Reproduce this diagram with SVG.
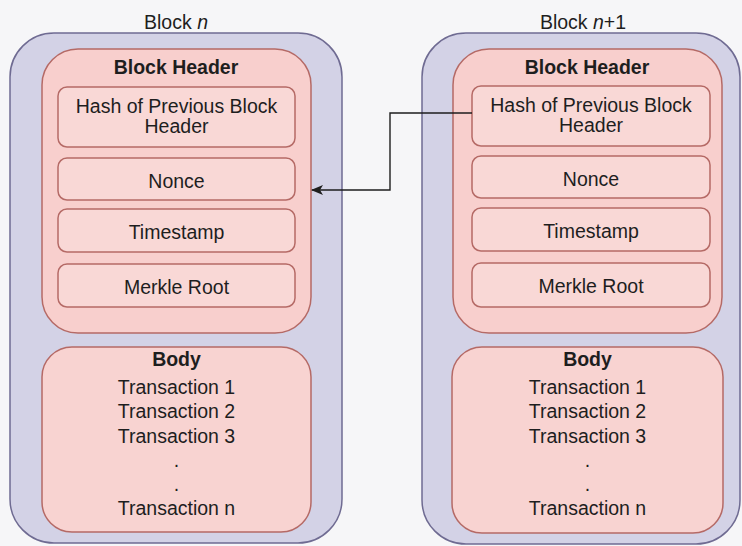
<svg xmlns="http://www.w3.org/2000/svg" width="742" height="546" viewBox="0 0 742 546">
<defs>
<style>
.bg{fill:#f6f6f8}
.outer{fill:#d3d2e6;stroke:#6f6b92;stroke-width:1.5}
.hdr{fill:#f8cfcd;stroke:#b56a66;stroke-width:1.5}
.box{fill:#f9d8d6;stroke:#b56a66;stroke-width:1.5}
.body{fill:#f8d3d1;stroke:#b56a66;stroke-width:1.5}
text{font-family:"Liberation Sans",Arial,sans-serif;font-size:19.5px;fill:#1e1e1e;text-anchor:middle}
.b{font-weight:bold}
.conn{fill:none;stroke:#1e1e1e;stroke-width:1.4}
</style>
<marker id="arr" viewBox="0 0 12 10" refX="11" refY="5" markerWidth="12" markerHeight="10" markerUnits="userSpaceOnUse" orient="auto">
<path d="M0,0 L12,5 L0,10 L3,5 Z" fill="#1e1e1e"/>
</marker>
</defs>
<rect class="bg" x="0" y="0" width="742" height="546"/>

<g id="block-n">
<text x="176" y="29">Block <tspan font-style="italic">n</tspan></text>
<rect class="outer" x="10" y="33" width="332" height="510" rx="44"/>
</g>
<g id="block-n-header">
<rect class="hdr" x="42" y="49" width="269" height="284" rx="36"/>
<text class="b" x="176" y="74">Block Header</text>
</g>
<g id="block-n-hash">
<rect class="box" x="58" y="87" width="237" height="60" rx="9"/>
<text x="176.5" y="113">Hash of Previous Block</text>
<text x="176.5" y="133">Header</text>
</g>
<g id="block-n-nonce">
<rect class="box" x="58" y="158" width="237" height="42" rx="9"/>
<text x="176.5" y="188">Nonce</text>
</g>
<g id="block-n-timestamp">
<rect class="box" x="58" y="209" width="237" height="43" rx="9"/>
<text x="176.5" y="239">Timestamp</text>
</g>
<g id="block-n-merkle">
<rect class="box" x="58" y="264" width="237" height="43" rx="9"/>
<text x="176.5" y="294">Merkle Root</text>
</g>
<g id="block-n-body">
<rect class="body" x="42" y="347" width="269" height="185" rx="30"/>
<text class="b" x="176.5" y="366">Body</text>
<text x="176.5" y="394">Transaction 1</text>
<text x="176.5" y="418">Transaction 2</text>
<text x="176.5" y="443">Transaction 3</text>
<text x="176.5" y="467">.</text>
<text x="176.5" y="491">.</text>
<text x="176.5" y="515">Transaction n</text>
</g>

<g id="block-n1">
<text x="583" y="29">Block <tspan font-style="italic">n</tspan>+1</text>
<rect class="outer" x="422" y="33" width="318" height="511" rx="44"/>
</g>
<g id="block-n1-header">
<rect class="hdr" x="453" y="49" width="269" height="284" rx="36"/>
<text class="b" x="587" y="74">Block Header</text>
</g>
<g id="block-n1-hash">
<rect class="box" x="472" y="86" width="238" height="60" rx="9"/>
<text x="591" y="112">Hash of Previous Block</text>
<text x="591" y="132">Header</text>
</g>
<g id="block-n1-nonce">
<rect class="box" x="472" y="156" width="238" height="42" rx="9"/>
<text x="591" y="186">Nonce</text>
</g>
<g id="block-n1-timestamp">
<rect class="box" x="472" y="208" width="238" height="43" rx="9"/>
<text x="591" y="238">Timestamp</text>
</g>
<g id="block-n1-merkle">
<rect class="box" x="472" y="263" width="238" height="44" rx="9"/>
<text x="591" y="293">Merkle Root</text>
</g>
<g id="block-n1-body">
<rect class="body" x="452" y="347" width="271" height="186" rx="30"/>
<text class="b" x="587.5" y="366">Body</text>
<text x="587.5" y="394">Transaction 1</text>
<text x="587.5" y="418">Transaction 2</text>
<text x="587.5" y="443">Transaction 3</text>
<text x="587.5" y="467">.</text>
<text x="587.5" y="491">.</text>
<text x="587.5" y="515">Transaction n</text>
</g>

<g id="connectors">
<path class="conn" d="M472,113 L390,113 L390,190 L312,190" marker-end="url(#arr)"/>
</g>
</svg>
